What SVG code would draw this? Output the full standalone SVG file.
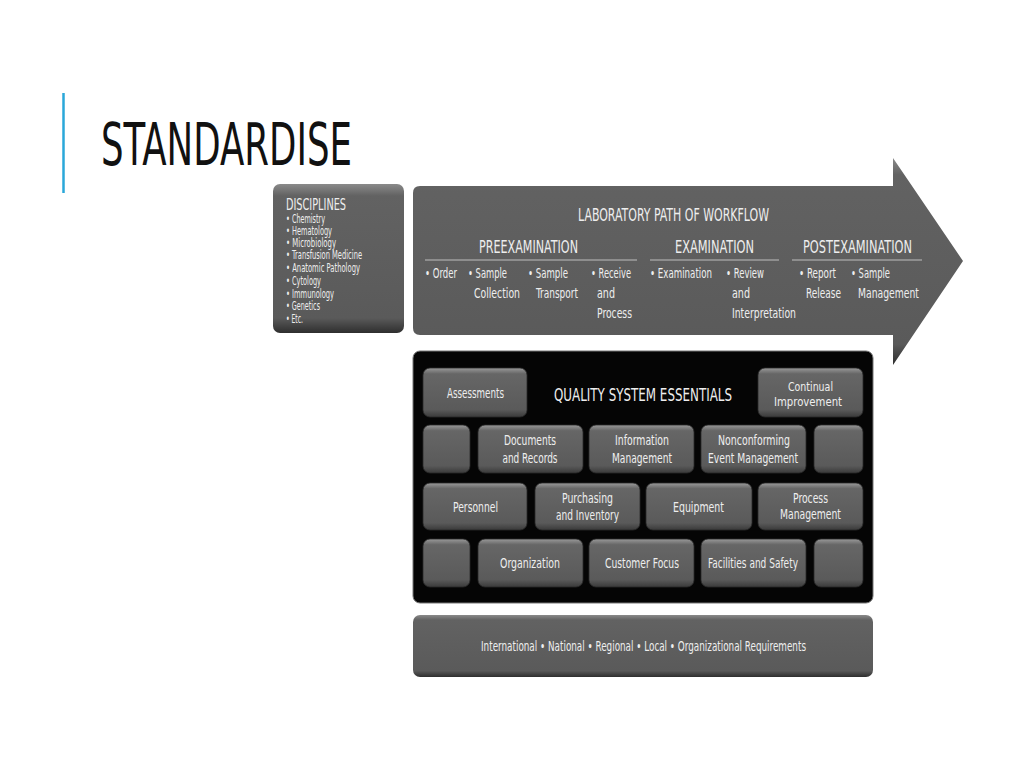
<svg xmlns="http://www.w3.org/2000/svg" width="1024" height="768" viewBox="0 0 1024 768">
<defs>
<linearGradient id="gBar" x1="0" y1="0" x2="0" y2="1">
<stop offset="0" stop-color="#8a8a8a"/>
<stop offset="0.08" stop-color="#626262"/>
<stop offset="0.9" stop-color="#5a5a5a"/>
<stop offset="1" stop-color="#2e2e2e"/>
</linearGradient>
<linearGradient id="gBtn" x1="0" y1="0" x2="0" y2="1">
<stop offset="0" stop-color="#9a9a9a"/>
<stop offset="0.12" stop-color="#666"/>
<stop offset="0.85" stop-color="#5a5a5a"/>
<stop offset="1" stop-color="#3a3a3a"/>
</linearGradient>
<style>
.t{font-family:"DejaVu Sans Condensed","Liberation Sans Narrow","Liberation Sans",sans-serif;fill:#eeeeee;}
.s11{font-size:11.5px;}
.s12{font-size:12.5px;}
.s13{font-size:13.5px;}
.s15{font-size:15px;}
.s17{font-size:17px;}
.s18{font-size:18px;}
.m{text-anchor:middle;}
.btn{fill:url(#gBtn);stroke:#2a2a2a;stroke-width:0.8;}
.rule{stroke:#bdbdbd;stroke-width:1.2;}
</style>
</defs>
<rect width="1024" height="768" fill="#ffffff"/>
<line x1="63.5" y1="93" x2="63.5" y2="193" stroke="#2aa7d9" stroke-width="2.5"/>
<text x="101" y="165" font-family="'DejaVu Sans Condensed','Liberation Sans Narrow','Liberation Sans',sans-serif" font-size="58" fill="#111" textLength="251" lengthAdjust="spacingAndGlyphs">STANDARDISE</text>

<g id="disciplines">
<rect x="273" y="184" width="131" height="149" rx="7" fill="url(#gBar)"/>
<text class="t s15" x="286" y="210" textLength="60" lengthAdjust="spacingAndGlyphs">DISCIPLINES</text>
<text class="t s11" x="286" y="223" textLength="39" lengthAdjust="spacingAndGlyphs">• Chemistry</text>
<text class="t s11" x="286" y="235" textLength="46" lengthAdjust="spacingAndGlyphs">• Hematology</text>
<text class="t s11" x="286" y="247" textLength="50" lengthAdjust="spacingAndGlyphs">• Microbiology</text>
<text class="t s11" x="286" y="259" textLength="76" lengthAdjust="spacingAndGlyphs">• Transfusion Medicine</text>
<text class="t s11" x="286" y="272" textLength="74" lengthAdjust="spacingAndGlyphs">• Anatomic Pathology</text>
<text class="t s11" x="286" y="285" textLength="35" lengthAdjust="spacingAndGlyphs">• Cytology</text>
<text class="t s11" x="286" y="298" textLength="48" lengthAdjust="spacingAndGlyphs">• Immunology</text>
<text class="t s11" x="286" y="310" textLength="34" lengthAdjust="spacingAndGlyphs">• Genetics</text>
<text class="t s11" x="286" y="323" textLength="17" lengthAdjust="spacingAndGlyphs">• Etc.</text>
</g>

<g id="workflow">
<path d="M420,186 L893,186 L893,158 L963,261 L893,365 L893,335 L420,335 Q413,335 413,328 L413,193 Q413,186 420,186 Z" fill="url(#gBar)"/>
<text class="t s17" x="578" y="221" textLength="191" lengthAdjust="spacingAndGlyphs">LABORATORY PATH OF WORKFLOW</text>
<text class="t s18" x="479" y="253" textLength="99" lengthAdjust="spacingAndGlyphs">PREEXAMINATION</text>
<text class="t s18" x="675" y="253" textLength="79" lengthAdjust="spacingAndGlyphs">EXAMINATION</text>
<text class="t s18" x="803" y="253" textLength="109" lengthAdjust="spacingAndGlyphs">POSTEXAMINATION</text>
<line class="rule" x1="425" y1="260" x2="637" y2="260"/>
<line class="rule" x1="650" y1="260" x2="779" y2="260"/>
<line class="rule" x1="792" y1="260" x2="922" y2="260"/>
<text class="t s13" x="425" y="278" textLength="32" lengthAdjust="spacingAndGlyphs">• Order</text>
<text class="t s13" x="468" y="278" textLength="39" lengthAdjust="spacingAndGlyphs">• Sample</text>
<text class="t s13" x="474" y="298" textLength="46" lengthAdjust="spacingAndGlyphs">Collection</text>
<text class="t s13" x="528" y="278" textLength="40" lengthAdjust="spacingAndGlyphs">• Sample</text>
<text class="t s13" x="536" y="298" textLength="42" lengthAdjust="spacingAndGlyphs">Transport</text>
<text class="t s13" x="591" y="278" textLength="40" lengthAdjust="spacingAndGlyphs">• Receive</text>
<text class="t s13" x="597" y="298" textLength="18" lengthAdjust="spacingAndGlyphs">and</text>
<text class="t s13" x="597" y="318" textLength="35" lengthAdjust="spacingAndGlyphs">Process</text>
<text class="t s13" x="650" y="278" textLength="62" lengthAdjust="spacingAndGlyphs">• Examination</text>
<text class="t s13" x="726" y="278" textLength="38" lengthAdjust="spacingAndGlyphs">• Review</text>
<text class="t s13" x="732" y="298" textLength="18" lengthAdjust="spacingAndGlyphs">and</text>
<text class="t s13" x="732" y="318" textLength="64" lengthAdjust="spacingAndGlyphs">Interpretation</text>
<text class="t s13" x="799" y="278" textLength="37" lengthAdjust="spacingAndGlyphs">• Report</text>
<text class="t s13" x="806" y="298" textLength="35" lengthAdjust="spacingAndGlyphs">Release</text>
<text class="t s13" x="851" y="278" textLength="39" lengthAdjust="spacingAndGlyphs">• Sample</text>
<text class="t s13" x="858" y="298" textLength="61" lengthAdjust="spacingAndGlyphs">Management</text>
</g>

<g id="quality-system">
<rect x="413" y="351" width="460" height="252" rx="7" fill="#050505" stroke="#777" stroke-width="1"/>
<text class="t s18" x="554" y="401" textLength="178" lengthAdjust="spacingAndGlyphs">QUALITY SYSTEM ESSENTIALS</text>
</g>

<g id="assessments"><rect class="btn" x="423" y="368" width="104" height="49" rx="7"/><text class="t s13 m" x="475.5" y="398" textLength="57" lengthAdjust="spacingAndGlyphs">Assessments</text></g>
<g id="continual-improvement"><rect class="btn" x="758" y="368" width="105" height="49" rx="7"/><text class="t s12 m" x="810.5" y="391" textLength="45" lengthAdjust="spacingAndGlyphs">Continual</text><text class="t s12 m" x="808" y="406" textLength="68" lengthAdjust="spacingAndGlyphs">Improvement</text></g>

<g id="blank-r2-left"><rect class="btn" x="423" y="425" width="47" height="48" rx="7"/></g>
<g id="documents"><rect class="btn" x="478" y="425" width="105" height="48" rx="7"/><text class="t s13 m" x="530" y="445" textLength="52" lengthAdjust="spacingAndGlyphs">Documents</text><text class="t s13 m" x="530" y="463" textLength="55" lengthAdjust="spacingAndGlyphs">and Records</text></g>
<g id="information"><rect class="btn" x="589" y="425" width="105" height="48" rx="7"/><text class="t s13 m" x="642" y="445" textLength="54" lengthAdjust="spacingAndGlyphs">Information</text><text class="t s13 m" x="642" y="463" textLength="60" lengthAdjust="spacingAndGlyphs">Management</text></g>
<g id="nonconforming"><rect class="btn" x="701" y="425" width="105" height="48" rx="7"/><text class="t s13 m" x="754" y="445" textLength="72" lengthAdjust="spacingAndGlyphs">Nonconforming</text><text class="t s13 m" x="753" y="463" textLength="90" lengthAdjust="spacingAndGlyphs">Event Management</text></g>
<g id="blank-r2-right"><rect class="btn" x="814" y="425" width="49" height="48" rx="7"/></g>

<g id="personnel"><rect class="btn" x="423" y="483" width="104" height="47" rx="7"/><text class="t s13 m" x="475.5" y="512" textLength="45" lengthAdjust="spacingAndGlyphs">Personnel</text></g>
<g id="purchasing"><rect class="btn" x="535" y="483" width="105" height="47" rx="7"/><text class="t s13 m" x="587.5" y="503" textLength="51" lengthAdjust="spacingAndGlyphs">Purchasing</text><text class="t s13 m" x="587.5" y="520" textLength="63" lengthAdjust="spacingAndGlyphs">and Inventory</text></g>
<g id="equipment"><rect class="btn" x="646" y="483" width="106" height="47" rx="7"/><text class="t s13 m" x="698.5" y="512" textLength="51" lengthAdjust="spacingAndGlyphs">Equipment</text></g>
<g id="process-management"><rect class="btn" x="758" y="483" width="105" height="47" rx="7"/><text class="t s13 m" x="810.5" y="503" textLength="35" lengthAdjust="spacingAndGlyphs">Process</text><text class="t s13 m" x="810.5" y="519" textLength="61" lengthAdjust="spacingAndGlyphs">Management</text></g>

<g id="blank-r4-left"><rect class="btn" x="423" y="539" width="47" height="48" rx="7"/></g>
<g id="organization"><rect class="btn" x="478" y="539" width="105" height="48" rx="7"/><text class="t s13 m" x="530" y="568" textLength="60" lengthAdjust="spacingAndGlyphs">Organization</text></g>
<g id="customer-focus"><rect class="btn" x="589" y="539" width="105" height="48" rx="7"/><text class="t s13 m" x="642" y="568" textLength="74" lengthAdjust="spacingAndGlyphs">Customer Focus</text></g>
<g id="facilities"><rect class="btn" x="701" y="539" width="105" height="48" rx="7"/><text class="t s13 m" x="753" y="568" textLength="90" lengthAdjust="spacingAndGlyphs">Facilities and Safety</text></g>
<g id="blank-r4-right"><rect class="btn" x="814" y="539" width="49" height="48" rx="7"/></g>

<g id="requirements">
<rect x="413" y="615" width="460" height="62" rx="7" fill="url(#gBar)"/>
<text class="t s13" x="481" y="651" textLength="325" lengthAdjust="spacingAndGlyphs">International • National • Regional • Local • Organizational Requirements</text>
</g>
<g id="connectors"/>
</svg>
